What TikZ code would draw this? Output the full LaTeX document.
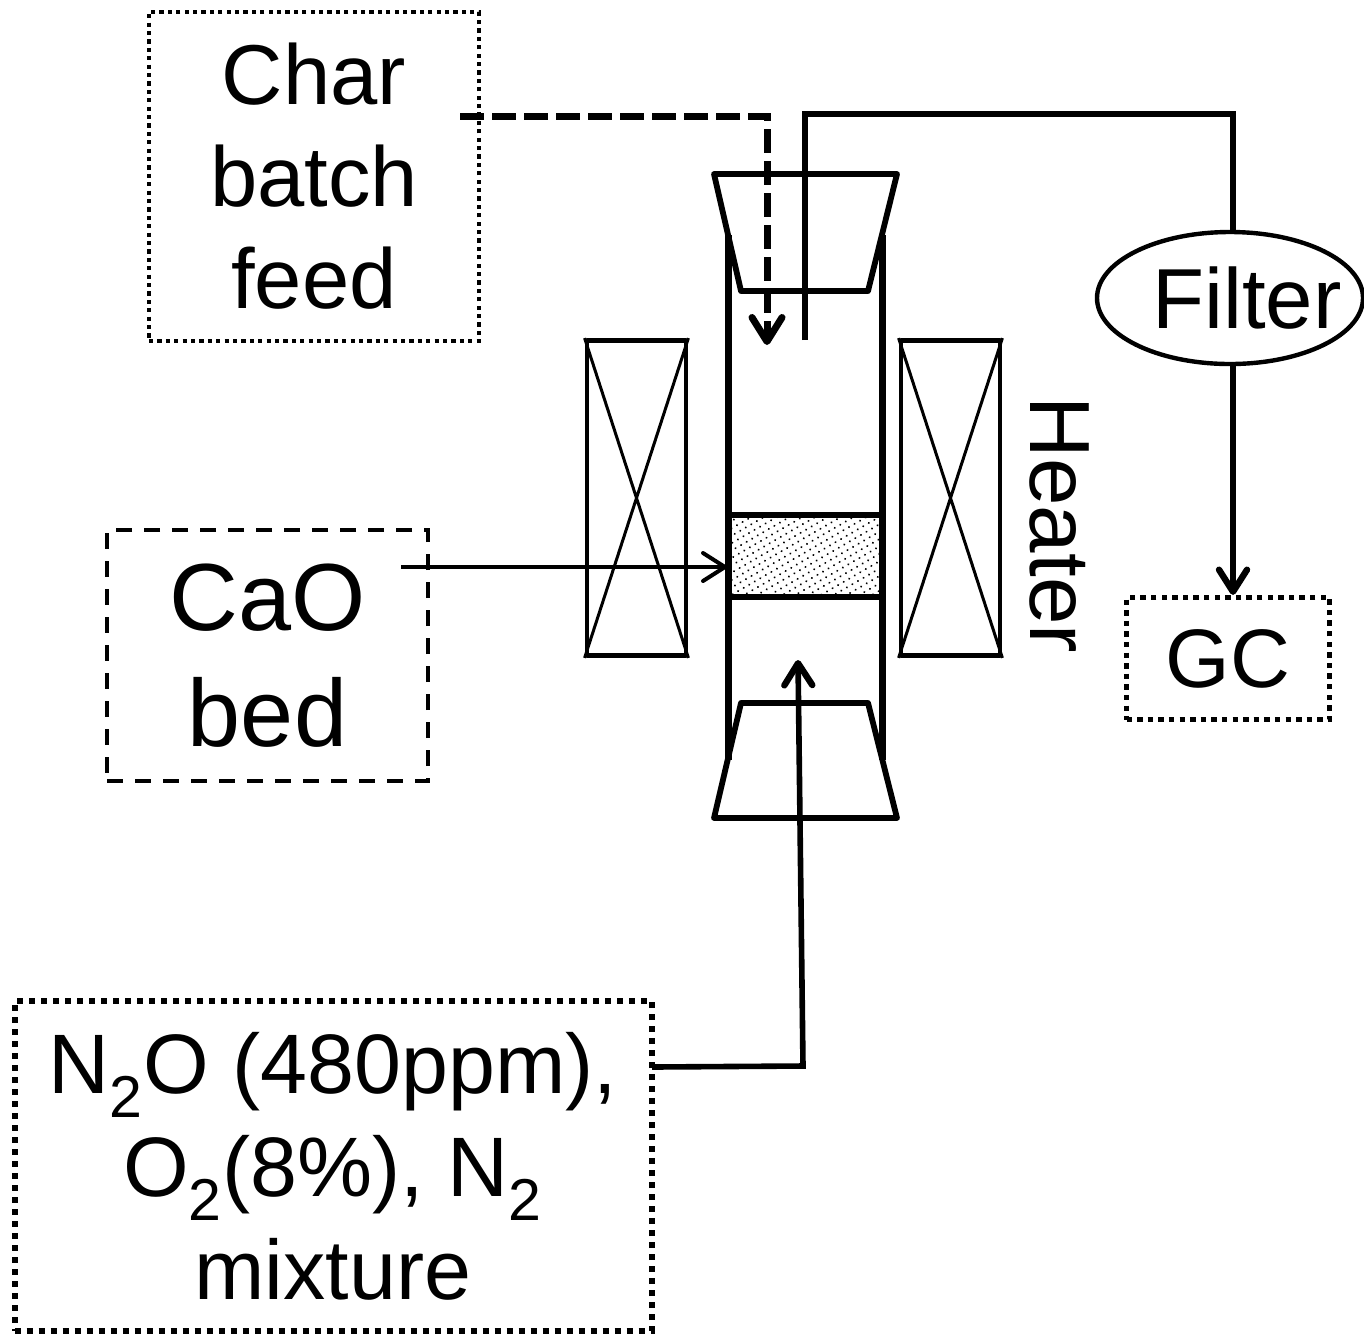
\documentclass[tikz,border=0pt]{standalone}
\usepackage{fontspec}
\setmainfont{Liberation Sans}
\usetikzlibrary{arrows.meta,patterns.meta,shapes.geometric,calc}
\tikzset{
  px/.style={x=0.5pt,y=-0.5pt},
  wall/.style={line width=2.9pt,line cap=round,line join=round},
  thinline/.style={line width=1.5pt},
  conn/.style={line width=3pt},
  dottedbox/.style={draw,rectangle,inner sep=0pt,align=center},
  barb/.style={-{Straight Barb[length=11pt,width=14pt,line width=3.2pt,round]}},
  heaterbox/.style={draw,rectangle,line width=2.4pt,line join=round,minimum width=49.5pt,minimum height=157.5pt,inner sep=0pt},
}
\begin{document}
\begin{tikzpicture}[px]
\useasboundingbox (0,0) rectangle (1364,1335);
% boxes with text
\node[dottedbox,line width=2.1pt,dash pattern=on 2.1pt off 2.1pt,minimum width=165pt,minimum height=164.5pt,font=\fontsize{42.5}{51}\selectfont] (char) at (314,176.5) {Char\\batch\\feed};
\node[dottedbox,line width=1.8pt,dash pattern=on 8pt off 6pt,minimum width=160.5pt,minimum height=125.5pt,font=\fontsize{47.7}{58}\selectfont] (cao) at (267.5,655.5) {CaO\\bed};
\node[dottedbox,line width=2.6pt,dash pattern=on 2.7pt off 2.6pt,minimum width=101.5pt,minimum height=61pt,font=\fontsize{41.5}{48}\selectfont] (gc) at (1228,658.5) {GC};
\node[dottedbox,line width=3pt,dash pattern=on 3pt off 3pt,minimum width=318.5pt,minimum height=165pt,font=\fontsize{42.2}{51.5}\selectfont] (mix) at (333,1166) {N\textsubscript{2}O (480ppm),\\O\textsubscript{2}(8\%), N\textsubscript{2}\\mixture};
\node[draw,ellipse,line width=2.2pt,minimum width=133pt,minimum height=66pt,inner sep=0pt,font=\fontsize{42.6}{48}\selectfont] (filter) at (1230,298) {\makebox[0pt][c]{\hspace{17pt}Filter}};
\node[rotate=-90,font=\fontsize{42.7}{48}\selectfont,inner sep=0pt] (heatlabel) at (1059,525) {Heater};
% heaters
\node[heaterbox] (hl) at (636.5,498) {};
\node[heaterbox] (hr) at (950.5,498) {};
\draw[thinline] (hl.north west) -- (hl.south east) (hl.north east) -- (hl.south west);
\draw[thinline] (hr.north west) -- (hr.south east) (hr.north east) -- (hr.south west);
% packed bed
\node[rectangle,pattern={Dots[distance=3.2pt,radius=0.55pt,angle=30]},minimum width=75pt,minimum height=41pt,inner sep=0pt] (bedfill) at (805,556) {};
\draw[wall,line cap=butt] (729,515) -- (881,515) (729,597) -- (881,597);
% tube walls
\coordinate (wlt) at (728,235); \coordinate (wlb) at (728,760);
\coordinate (wrt) at (882,235); \coordinate (wrb) at (882,760);
\draw[line width=3.5pt] (wlt) -- (wlb) (wrt) -- (wrb);
% stoppers
\draw[wall] (714,174) -- (897,174) -- (868,291) -- (741,291) -- cycle;
\draw[wall] (741,703) -- (868,703) -- (897,818) -- (714,818) -- cycle;
% connectors
\coordinate (chars) at (460,116);
\coordinate (charc) at (767,116);
\coordinate (chare) at (767,345);
\draw[line width=3.5pt,dash pattern=on 12pt off 4pt,-{Straight Barb[length=12pt,width=15pt,line width=3.5pt,round]}] (chars) -- (charc) -- (chare);
\coordinate (sample) at (805,340);
\coordinate (c1) at (805,114);
\coordinate (c2) at (1233,114);
\draw[line width=3.3pt,line join=miter] (sample) -- (c1) -- (c2) -- (c2 |- filter.north);
\coordinate (ft) at (1233,362);
\draw[conn,barb] (ft) -- (ft |- gc.north);
\coordinate (caos) at (401,567);
\coordinate (caoe) at (727,567);
\draw[line width=2pt,-{Straight Barb[length=11pt,width=14pt,line width=2pt,round]}] (caos) -- (caoe);
\coordinate (m1) at (652,1067);
\coordinate (m2) at (803,1066);
\coordinate (m3) at (798,660);
\draw[line width=2.8pt,line join=miter,barb] (m1) -- (m2) -- (m3);
\end{tikzpicture}
\end{document}
